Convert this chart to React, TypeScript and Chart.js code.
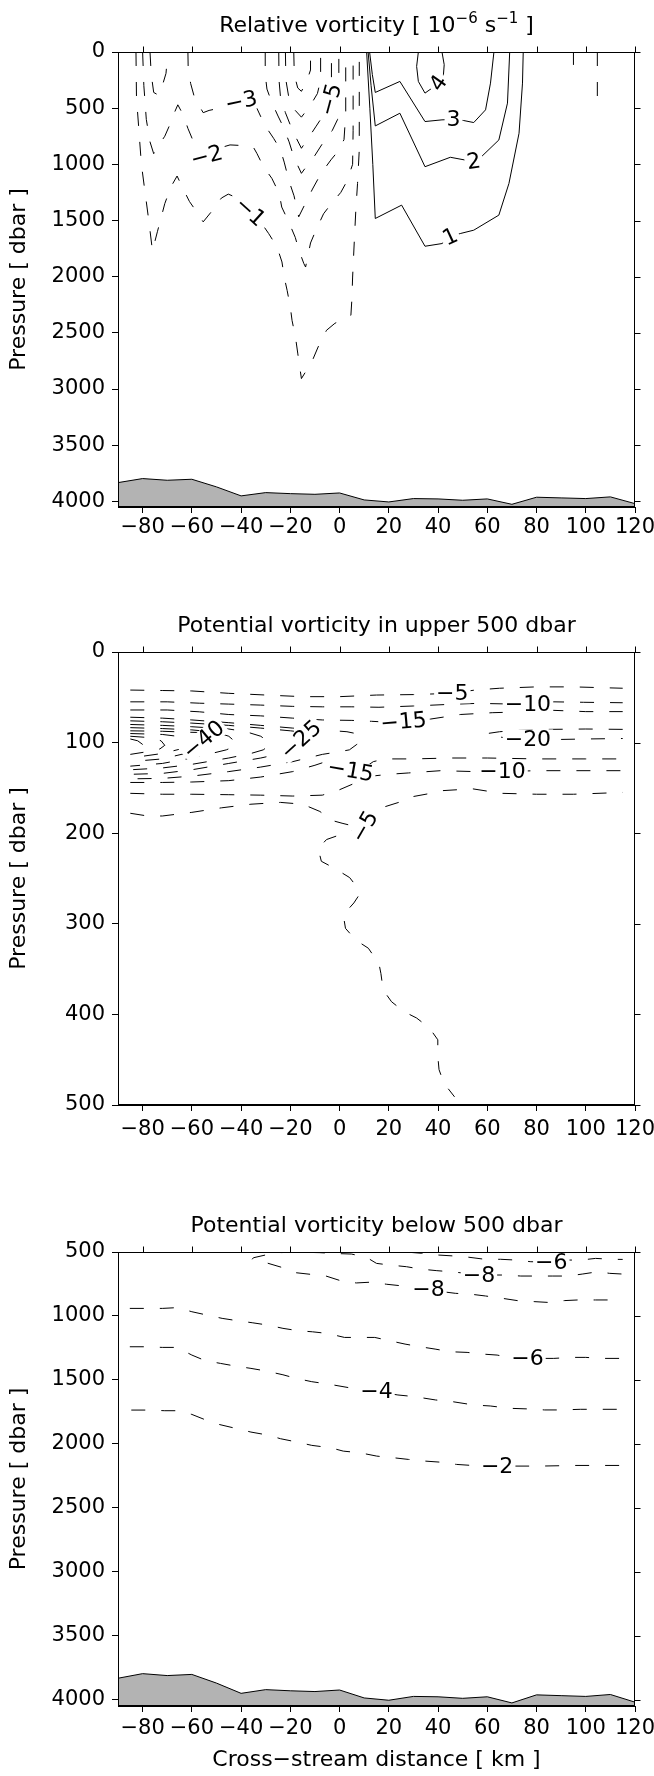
import React, { useEffect, useRef } from 'react';
import { Chart, registerables } from 'chart.js';

Chart.register(...registerables);

const FONT = "'DejaVu Sans', 'Liberation Sans', sans-serif";

// ---------------- axes ----------------
const X_MIN = -90;
const X_MAX = 120;
const X_TICKS = [-80, -60, -40, -20, 0, 20, 40, 60, 80, 100, 120];
const Y1_TICKS = [0, 500, 1000, 1500, 2000, 2500, 3000, 3500, 4000];
const Y2_TICKS = [0, 100, 200, 300, 400, 500];
const Y3_TICKS = [500, 1000, 1500, 2000, 2500, 3000, 3500, 4000];

// ---------------- bottom topography ----------------
const BATHY_X = [-90, -80, -70, -60, -50, -40, -30, -20, -10, 0, 10, 20, 30, 40, 50, 60, 70, 80, 90, 100, 110, 120];
const BATHY_P = [3833, 3797, 3812, 3803, 3871, 3951, 3922, 3931, 3937, 3925, 3987, 4005, 3975, 3978, 3990, 3978, 4026, 3963, 3969, 3975, 3960, 4020];

// ---------------- panel 1: relative vorticity ----------------
const TITLE_1 = [
  { text: 'Relative vorticity [ 10' },
  { text: '\u22126', sup: true },
  { text: ' s' },
  { text: '\u22121', sup: true },
  { text: ' ]' },
];
const RV_N1 = [[-82.7,0],[-82.5,400],[-81.5,700],[-80.5,1000],[-79,1250],[-77.5,1500],[-76,1770],[-74,1600],[-71,1350],[-68.5,1200],[-66,1104],[-63.5,1220],[-61,1330],[-57.5,1440],[-55.4,1512],[-52,1420],[-48,1300],[-45.2,1265],[-42.5,1290],[-39,1350],[-36.3,1422],[-33,1480],[-31.6,1527],[-28.8,1616],[-25.4,1735],[-23.4,1869],[-22.5,2003],[-21.3,2122],[-20,2271],[-19.3,2390],[-17.9,2539],[-17,2680],[-15.5,2907],[-11.3,2759],[-8.7,2625],[-5.3,2477],[-1.9,2415],[4.6,2343],[5,2200],[5.3,2003],[6,1675],[6.6,1408],[7.3,1170],[8,872],[8,500],[8,0]];
const RV_N2 = [[-80,0],[-79.5,300],[-78.5,600],[-77,800],[-75.5,905],[-73.5,830],[-71,750],[-69,650],[-67.5,560],[-65.7,470],[-63.5,560],[-61.6,680],[-59.5,790],[-58,880],[-56,925],[-54,930],[-50,880],[-48,850],[-44.5,827],[-40,832],[-35,848],[-33.6,902],[-30.9,1021],[-27.5,1125],[-24.5,1260],[-23.5,1380],[-20.5,1520],[-18,1650],[-16.5,1765],[-14.5,1884],[-13.8,1914],[-11.8,1700],[-9.5,1580],[-6.5,1440],[-3,1340],[0.5,1250],[3,1150],[5.3,1000],[5.5,700],[5.5,300],[5.5,0]];
const RV_N3 = [[-61.6,0],[-61.5,130],[-60.5,280],[-59,400],[-57,480],[-55.4,540],[-53,520],[-50.7,509],[-45.9,485],[-41.8,455],[-40,440],[-37,425],[-35,430],[-33.6,500],[-31.5,600],[-30,664],[-26.8,768],[-24,870],[-22.5,980],[-20.5,1150],[-18.5,1280],[-17.5,1380],[-16.6,1467],[-13.5,1330],[-11,1220],[-7.5,1080],[-3.5,960],[-0.5,880],[1.8,780],[2.5,550],[2.5,0]];
const RV_N3B = [[-77,0],[-76.5,200],[-75.5,360],[-73.5,385],[-72,300],[-70.5,190],[-70,60],[-70,0]];
const RV_N4 = [[-30.2,0],[-30.2,200],[-29.5,330],[-27.5,450],[-25,570],[-23,660],[-20.5,800],[-18.8,920],[-17,1010],[-15.5,1080],[-12.5,990],[-10,920],[-6.5,800],[-3,700],[-0.8,600],[-0.3,450],[-0.3,0]];
const RV_N5 = [[-24.7,0],[-24.6,250],[-24,400],[-22,540],[-20,650],[-17.5,770],[-15.5,857],[-12.5,760],[-9.5,660],[-6.5,560],[-4.6,480],[-3.6,425],[-3.3,300],[-3.3,0]];
const RV_N6 = [[-22,0],[-21.8,250],[-20.5,420],[-18,520],[-15.5,580],[-12,480],[-9,370],[-7.7,250],[-7.7,0]];
const RV_N7 = [[-18.6,0],[-18.4,200],[-17,320],[-15.5,350],[-13.5,270],[-11.8,160],[-11.8,0]];
const RV_NE1 = [[95,0],[95,115]];
const RV_NE2 = [[104.7,0],[104.7,490]];
const RV_P1 = [[11,0],[12.3,500],[13.5,1000],[14.5,1482],[25.2,1363],[34.7,1729],[41.6,1705],[45,1646],[49,1616],[54.5,1586],[64.7,1452],[68.8,1170],[72.9,723],[74.3,277],[74.6,0]];
const RV_P2 = [[11.6,0],[12.8,300],[14.5,658],[24.5,545],[34.7,1021],[45,937],[54.5,976],[57.9,926],[64.7,783],[68.2,455],[69.1,0]];
const RV_P3 = [[12.2,0],[13.3,200],[14.5,360],[24.5,262],[34.7,619],[41.6,604],[46.3,600],[50.4,610],[54.5,628],[59.3,515],[61.3,277],[62.7,0]];
const RV_P4 = [[32,0],[31.3,128],[32,262],[34.7,366],[37.5,322],[40.2,277],[42.2,200],[42.5,113],[41.6,0]];
const RV_LABELS = [
  { x: -40, y: 440, text: '\u22123', angle: -12 },
  { x: -54, y: 928, text: '\u22122', angle: -15 },
  { x: -36.3, y: 1422, text: '\u22121', angle: 42 },
  { x: -3.6, y: 425, text: '\u22125', angle: -75 },
  { x: 40.2, y: 277, text: '4', angle: -55 },
  { x: 46.3, y: 600, text: '3', angle: 0 },
  { x: 54.5, y: 976, text: '2', angle: -8 },
  { x: 45, y: 1646, text: '1', angle: -25 },
];

// ---------------- panel 2: PV upper 500 dbar ----------------
const TITLE_2 = [{ text: 'Potential vorticity in upper 500 dbar' }];
const PV_5U = [[-85,42],[-72,42.5],[-60,43],[-45,45.6],[-30,47.5],[-15,49.3],[0,49.3],[15,47.5],[30,47],[45.8,45.6],[55,42],[65,40],[80,38.5],[95,38.5],[115,40]];
const PV_10U = [[-85,55],[-70,55],[-57,56.5],[-45,57.5],[-32,58.6],[-19,60],[-7,60.5],[5,60.5],[16,61],[30,59.6],[43,58],[56,56.7],[69,57.4],[76.5,57.4],[87,55],[99,55.5],[115,56]];
const PV_15U = [[-85,64],[-70,64],[-57,66],[-45,69],[-32,70.5],[-19,73],[-7,75],[5,75.5],[13,76.5],[20,77.5],[26,77],[37,74],[49,69],[62,67],[75,66],[87,64.4],[100,65.8],[115,65.8]];
const PV_20 = [[-85,72],[-72,73],[-60,75],[-45,78],[-32,81],[-19,84],[-7,86],[3,88],[7.5,90.5],[8.5,95],[7,102],[4,108],[0,110],[-7,113],[-19,121],[-32,127],[-45,132],[-60,137],[-72,139.5],[-85,140]];
const PV_25 = [[-85,76],[-72,77],[-60,78.5],[-45,81],[-32,84],[-20,87],[-13,89],[-10,91.5],[-12,94],[-15.7,97],[-18,104],[-22,111],[-32,117],[-45,123],[-60,130],[-72,134],[-85,135]];
const PV_30 = [[-85,80],[-72,81],[-60,82.5],[-45,85],[-38,88],[-32,93],[-29,99],[-28.5,103],[-31,108],[-36,112],[-45,117],[-60,124],[-72,128],[-85,130]];
const PV_35 = [[-85,83.5],[-72,84.5],[-60,86],[-50,88.5],[-45,93],[-42,100],[-42.5,104],[-46,108],[-52,112],[-60,117],[-72,123],[-85,126]];
const PV_40 = [[-85,87],[-72,87.5],[-62,88.5],[-55,89],[-51,90],[-50,92],[-52,94],[-55.2,97],[-58.5,104],[-62.7,112],[-72,118],[-85,121]];
const PV_45 = [[-85,90],[-72,91],[-66,93],[-63,97],[-62.5,102],[-64.5,107],[-72,112],[-85,117]];
const PV_50 = [[-85,93],[-77,94.5],[-72.5,98],[-71,103],[-73,107],[-78,110],[-85,113]];
const PV_55 = [[-85,96],[-82,98],[-80,102],[-81.5,105],[-85,108]];
const PV_20R = [[115,85.4],[100,85],[85,85.4],[72,86.5],[65,88],[60,90],[62,92.5],[68,95],[76.5,96.5],[90,96.5],[100,96],[115,95.5]];
const PV_15L = [[-85,144],[-72,144],[-60,143.5],[-45,142],[-32,138],[-19,132],[-10,125],[-3.4,119],[0,126],[4.5,131],[10,128],[13.7,121],[18.5,118],[30,118],[45,117],[60,117],[80,118],[100,118],[115,118]];
const PV_10L = [[-85,156],[-72,157],[-60,157],[-45,157.5],[-32,158],[-19,159],[-7,158],[0,152],[6,145],[13,137],[20,135],[28,133.5],[41,131],[55,132],[66.2,132],[80,131],[95,131],[115,131]];
const PV_5L_W = [[-85,178],[-78,181],[-72,181],[-60,177],[-48,172],[-36,168],[-24,166],[-15,168],[-8,176],[-3,186],[1,189],[5.5,192],[10.2,193]];
const PV_5L_E = [[10.2,193],[13,180],[17,172],[24,166],[29,160],[36,156.5],[42,153],[48,152],[54,151],[61,154],[66,156],[80,157],[95,157],[115,155]];
const PV_5L_S = [[10.2,193],[4.1,198],[-5.3,207],[-8.7,217],[-7.4,231],[-1.9,239],[4.1,249],[7.5,261],[7.5,270],[5.8,277],[1.5,290],[2.4,305],[6.6,318],[11.7,327],[16,344],[16.8,355],[17.7,373],[21.1,386],[26.2,397],[31.3,404],[36.5,415],[39.9,428],[39.9,446],[40.4,461],[42.4,476],[46.7,491]];
const PV_LABELS = [
  { x: 45.8, y: 45.6, text: '\u22125', angle: 0 },
  { x: 76.5, y: 57.4, text: '\u221210', angle: 0 },
  { x: 26, y: 77, text: '\u221215', angle: -5 },
  { x: 76.5, y: 96.5, text: '\u221220', angle: 0 },
  { x: -15.7, y: 97, text: '\u221225', angle: -42 },
  { x: -55.2, y: 97, text: '\u221240', angle: -40 },
  { x: 4.5, y: 131, text: '\u221215', angle: 10 },
  { x: 66.2, y: 132, text: '\u221210', angle: 0 },
  { x: 10.2, y: 193, text: '\u22125', angle: -60 },
];

// ---------------- panel 3: PV below 500 dbar ----------------
const TITLE_3 = [{ text: 'Potential vorticity below 500 dbar' }];
const PVD_6U = [[28,502],[33.4,510],[39.5,523],[46.3,531],[52.5,541],[59,557],[65.4,557],[71.6,563],[77.7,576],[86,578],[92,563],[98,563],[104,550],[110.4,557],[115,558]];
const PVD_8 = [[114.5,672],[109.7,667],[105,654],[98.8,672],[92.7,688],[86.6,688],[79.7,688],[73.6,688],[67.5,680],[61.3,680],[56.6,685],[52,668],[45,654],[39.5,646],[32.7,633],[27.2,615],[20.4,602],[15,589],[10.9,541],[4.8,516],[-1.4,512],[-8.2,505],[-18,501],[-24.6,505],[-30,523],[-35,545],[-35.5,557],[-30,583],[-23,623],[-17.7,662],[-11.6,675],[-5.5,688],[1.3,730],[6.8,742],[13.6,735],[19,752],[25.9,766],[28.6,771],[36.1,790],[41.6,810],[47,823],[53.8,831],[59.3,844],[66,862],[72.2,880],[79,888],[84.5,894],[91.3,880],[96.8,875],[104,875],[109.7,875],[115,875]];
const PVD_6L = [[-85.2,941],[-79,941],[-72,941],[-66,935],[-60,967],[-53.9,993],[-47.7,1019],[-41.6,1037],[-35.5,1053],[-29.3,1071],[-23,1097],[-17,1115],[-11,1124],[-4.8,1137],[2,1168],[8.2,1168],[14.3,1168],[20.4,1194],[26.6,1220],[32.7,1241],[38.8,1259],[45,1280],[51.8,1285],[57.9,1298],[64,1306],[68.8,1324],[76.3,1332],[87,1332],[94,1324],[100,1324],[106.3,1332],[115,1332]];
const PVD_4 = [[-85.2,1241],[-79,1241],[-72,1246],[-66,1246],[-60,1306],[-54.5,1350],[-48.4,1371],[-42.3,1392],[-36,1410],[-30,1430],[-23,1460],[-17.7,1488],[-11.3,1514],[-4.5,1533],[5,1565],[15,1592],[23.7,1618],[30.5,1631],[39,1657],[45.8,1670],[54.4,1696],[61.2,1704],[68.8,1722],[76.5,1727],[83.3,1735],[90.2,1735],[97.8,1730],[115,1730]];
const PVD_2 = [[-84.6,1736],[-77.8,1736],[-71,1741],[-66,1741],[-60,1770],[-54.8,1810],[-48.8,1849],[-42,1880],[-36,1908],[-29,1932],[-24,1960],[-17.3,1986],[-11.3,2012],[-3.6,2031],[1.5,2057],[8.3,2070],[15.1,2096],[22,2109],[28,2122],[34.7,2135],[40.7,2143],[47.5,2161],[57.8,2174],[64,2174],[81.6,2174],[96,2169],[115,2169]];
const PVD_LABELS = [
  { x: 86, y: 578, text: '\u22126', angle: 0 },
  { x: 56.6, y: 685, text: '\u22128', angle: 0 },
  { x: 36.1, y: 790, text: '\u22128', angle: 0 },
  { x: 76.3, y: 1332, text: '\u22126', angle: 0 },
  { x: 15, y: 1592, text: '\u22124', angle: 0 },
  { x: 64, y: 2174, text: '\u22122', angle: 0 },
];

const DASH = [14, 16];

function fmt(v: number): string {
  return v < 0 ? '\u2212' + Math.abs(v) : String(v);
}

type Part = { text: string; sup?: boolean };
type Label = { x: number; y: number; text: string; angle: number };
type LineSpec = { pts: number[][]; dashed: boolean };

type PanelProps = {
  top: number;
  height: number;
  padTop: number;
  xAxisH: number;
  tickPad: number;
  yMin: number;
  yMax: number;
  yTicks: number[];
  title: Part[];
  lines: LineSpec[];
  labels: Label[];
  bathy: boolean;
  xTitle?: string;
};

function Panel(props: PanelProps) {
  const ref = useRef<HTMLCanvasElement | null>(null);
  useEffect(() => {
    const p = props;
    const datasets: any[] = [];
    if (p.bathy) {
      datasets.push({
        data: BATHY_X.map((x, i) => ({ x, y: BATHY_P[i] })),
        showLine: true,
        fill: { value: p.yMax },
        backgroundColor: '#b3b3b3',
        borderColor: '#000',
        borderWidth: 1,
        pointRadius: 0,
        tension: 0,
      });
    }
    p.lines.forEach((l) => {
      datasets.push({
        data: l.pts.map((q) => ({ x: q[0], y: q[1] })),
        showLine: true,
        fill: false,
        borderColor: '#000',
        borderWidth: 1,
        borderDash: l.dashed ? DASH : [],
        pointRadius: 0,
        tension: 0,
      });
    });

    const custom = {
      id: 'panelDecor',
      afterDatasetsDraw(chart: any) {
        const { ctx, chartArea: a, scales } = chart;
        const xs = scales.x;
        const ys = scales.y;
        ctx.save();
        ctx.beginPath();
        ctx.rect(a.left, a.top, a.right - a.left, a.bottom - a.top);
        ctx.clip();
        ctx.font = `22px ${FONT}`;
        ctx.textAlign = 'center';
        ctx.textBaseline = 'middle';
        p.labels.forEach((lb) => {
          const px = xs.getPixelForValue(lb.x);
          const py = ys.getPixelForValue(lb.y);
          const w = ctx.measureText(lb.text).width;
          ctx.save();
          ctx.translate(px, py);
          ctx.rotate((lb.angle * Math.PI) / 180);
          ctx.fillStyle = '#fff';
          ctx.fillRect(-w / 2 - 2, -10, w + 4, 20);
          ctx.fillStyle = '#000';
          ctx.fillText(lb.text, 0, 1);
          ctx.restore();
        });
        ctx.restore();
        ctx.save();
        ctx.strokeStyle = '#000';
        ctx.lineWidth = 1;
        const L = Math.round(a.left) + 0.5;
        const R = Math.round(a.right) - 0.5;
        const T = Math.round(a.top) + 0.5;
        const B = Math.round(a.bottom) - 0.5;
        ctx.strokeRect(L, T, R - L, B - T);
        ctx.beginPath();
        X_TICKS.forEach((v) => {
          const px = Math.round(xs.getPixelForValue(v)) + 0.5;
          ctx.moveTo(px, T);
          ctx.lineTo(px, T - 6);
        });
        p.yTicks.forEach((v) => {
          const py = Math.round(ys.getPixelForValue(v)) + 0.5;
          ctx.moveTo(R, py);
          ctx.lineTo(R + 6, py);
        });
        ctx.stroke();
        ctx.restore();
      },
      afterDraw(chart: any) {
        const { ctx, chartArea: a } = chart;
        ctx.save();
        const main = `22px ${FONT}`;
        const sup = `15px ${FONT}`;
        let total = 0;
        p.title.forEach((t) => {
          ctx.font = t.sup ? sup : main;
          total += ctx.measureText(t.text).width;
        });
        let x = (a.left + a.right) / 2 - total / 2;
        const baseY = a.top - 20;
        ctx.fillStyle = '#000';
        ctx.textAlign = 'left';
        ctx.textBaseline = 'alphabetic';
        p.title.forEach((t) => {
          ctx.font = t.sup ? sup : main;
          ctx.fillText(t.text, x, t.sup ? baseY - 9 : baseY);
          x += ctx.measureText(t.text).width;
        });
        ctx.restore();
      },
    };

    const chart = new Chart(ref.current as HTMLCanvasElement, {
      type: 'scatter',
      data: { datasets },
      options: {
        responsive: false,
        maintainAspectRatio: false,
        animation: false,
        devicePixelRatio: 1,
        events: [],
        layout: { padding: { top: p.padTop, right: 19, bottom: 0, left: 0 }, autoPadding: false },
        plugins: {
          legend: { display: false },
          tooltip: { enabled: false },
          title: { display: false },
        },
        scales: {
          x: {
            type: 'linear',
            position: 'bottom',
            min: X_MIN,
            max: X_MAX,
            afterBuildTicks: (s: any) => {
              s.ticks = X_TICKS.map((v) => ({ value: v }));
            },
            ticks: {
              font: { family: FONT, size: 21 },
              color: '#000',
              padding: p.tickPad,
              maxRotation: 0,
              minRotation: 0,
              autoSkip: false,
              callback: (v: any) => fmt(Number(v)),
            },
            grid: { display: true, drawOnChartArea: false, drawTicks: true, tickLength: 6, color: '#000', lineWidth: 1 },
            border: { display: true, color: '#000', width: 1 },
            title: p.xTitle
              ? { display: true, text: p.xTitle, color: '#000', font: { family: FONT, size: 22 }, padding: { top: 0, bottom: 3 } }
              : { display: false },
            afterFit: (s: any) => {
              s.height = p.xAxisH;
              s.paddingLeft = 0;
              s.paddingRight = 0;
            },
          },
          y: {
            type: 'linear',
            position: 'left',
            reverse: true,
            min: p.yMin,
            max: p.yMax,
            afterBuildTicks: (s: any) => {
              s.ticks = p.yTicks.map((v) => ({ value: v }));
            },
            ticks: {
              font: { family: FONT, size: 21 },
              color: '#000',
              padding: 7,
              autoSkip: false,
              callback: (v: any) => fmt(Number(v)),
            },
            grid: { display: true, drawOnChartArea: false, drawTicks: true, tickLength: 6, color: '#000', lineWidth: 1 },
            border: { display: true, color: '#000', width: 1 },
            title: { display: true, text: 'Pressure [ dbar ]', color: '#000', font: { family: FONT, size: 22 }, padding: { top: 6, bottom: 0 } },
            afterFit: (s: any) => {
              s.width = 118;
              s.paddingTop = 0;
              s.paddingBottom = 0;
            },
          },
        },
      } as any,
      plugins: [custom],
    });
    return () => chart.destroy();
  }, []);
  return (
    <canvas
      ref={ref}
      width={654}
      height={props.height}
      style={{ position: 'absolute', left: 0, top: props.top }}
    />
  );
}

const N = (pts: number[][]): LineSpec => ({ pts, dashed: true });
const S = (pts: number[][]): LineSpec => ({ pts, dashed: false });

export default function App() {
  return (
    <div style={{ position: 'absolute', left: 0, top: 0, width: 654, height: 1776, background: '#fff' }}>
      <Panel
        top={0}
        height={560}
        padTop={52}
        xAxisH={53}
        tickPad={2}
        yMin={0}
        yMax={4050}
        yTicks={Y1_TICKS}
        title={TITLE_1}
        bathy={true}
        lines={[
          N(RV_N1), N(RV_N2), N(RV_N3), N(RV_N3B), N(RV_N4), N(RV_N5), N(RV_N6), N(RV_N7), N(RV_NE1), N(RV_NE2),
          S(RV_P1), S(RV_P2), S(RV_P3), S(RV_P4),
        ]}
        labels={RV_LABELS}
      />
      <Panel
        top={560}
        height={590}
        padTop={92}
        xAxisH={45}
        tickPad={6}
        yMin={0}
        yMax={500}
        yTicks={Y2_TICKS}
        title={TITLE_2}
        bathy={false}
        lines={[
          N(PV_5U), N(PV_10U), N(PV_15U), N(PV_20), N(PV_25), N(PV_30), N(PV_35), N(PV_40), N(PV_45), N(PV_50), N(PV_55),
          N(PV_20R), N(PV_15L), N(PV_10L), N(PV_5L_W), N(PV_5L_E), N(PV_5L_S),
        ]}
        labels={PV_LABELS}
      />
      <Panel
        top={1150}
        height={626}
        padTop={102}
        xAxisH={70}
        tickPad={4}
        yMin={500}
        yMax={4050}
        yTicks={Y3_TICKS}
        title={TITLE_3}
        bathy={true}
        xTitle={'Cross\u2212stream distance [ km ]'}
        lines={[N(PVD_6U), N(PVD_8), N(PVD_6L), N(PVD_4), N(PVD_2)]}
        labels={PVD_LABELS}
      />
    </div>
  );
}
